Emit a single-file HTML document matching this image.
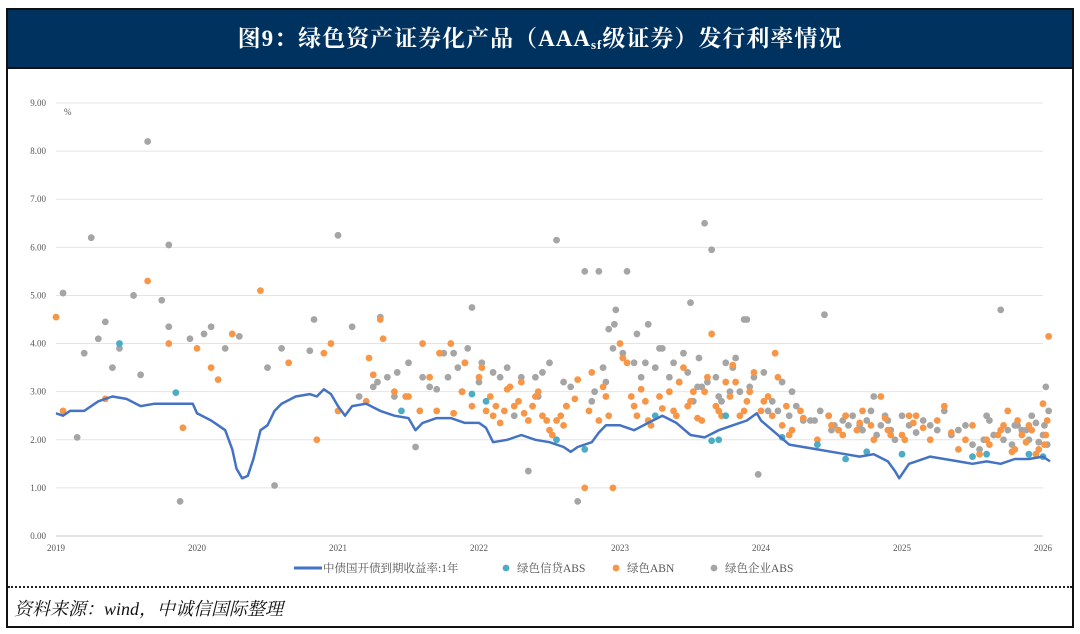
<!DOCTYPE html>
<html><head><meta charset="utf-8"><style>
body{margin:0;width:1080px;height:634px;background:#fff;overflow:hidden;font-family:"Liberation Serif","Noto Serif CJK SC",serif}
#frame{position:absolute;left:6px;top:8px;width:1064px;height:616px;border:2px solid #111;}
#hdr{position:absolute;left:0;top:0;width:1064px;height:57px;background:#00325f;border-bottom:2px solid #111;color:#fff;text-align:center;line-height:57px;font-size:23px;font-weight:bold;letter-spacing:1px}
#hdr sub{font-size:13px;vertical-align:-3px}
#dots{position:absolute;left:0;top:576px;width:1064px;border-top:2px dotted #222}
#src{position:absolute;left:6px;top:585px;font-style:italic;font-size:18px;color:#111}
svg{position:absolute;left:0;top:0}
</style></head><body>
<div id="frame">
<div id="hdr">图9：绿色资产证券化产品（AAA<sub>sf</sub>级证券）发行利率情况</div>
<div id="dots"></div>
<div id="src">资料来源：wind，中诚信国际整理</div>
</div>
<svg id="chart" width="1080" height="634"></svg>
<script>
const yTicks=[0,1,2,3,4,5,6,7,8,9];
const xTicks=[2019,2020,2021,2022,2023,2024,2025,2026];
const lineT=[2019.0,2019.05,2019.1,2019.2,2019.3,2019.4,2019.5,2019.6,2019.7,2019.8,2019.9,2019.97,2020.0,2020.1,2020.15,2020.2,2020.25,2020.28,2020.32,2020.36,2020.4,2020.45,2020.5,2020.55,2020.6,2020.7,2020.8,2020.85,2020.9,2020.95,2021.0,2021.05,2021.1,2021.2,2021.3,2021.4,2021.5,2021.55,2021.6,2021.7,2021.8,2021.9,2022.0,2022.05,2022.1,2022.2,2022.3,2022.4,2022.5,2022.6,2022.65,2022.7,2022.8,2022.85,2022.9,2023.0,2023.1,2023.2,2023.3,2023.4,2023.5,2023.6,2023.7,2023.8,2023.9,2023.97,2024.0,2024.1,2024.2,2024.3,2024.4,2024.5,2024.6,2024.7,2024.8,2024.9,2024.95,2024.98,2025.05,2025.1,2025.2,2025.3,2025.4,2025.5,2025.6,2025.7,2025.8,2025.9,2026.0,2026.05];
const lineV=[2.55,2.5,2.6,2.6,2.8,2.9,2.85,2.7,2.75,2.75,2.75,2.75,2.55,2.4,2.3,2.2,1.8,1.4,1.2,1.25,1.6,2.2,2.3,2.6,2.75,2.9,2.95,2.9,3.05,2.95,2.7,2.5,2.7,2.75,2.6,2.5,2.45,2.2,2.35,2.45,2.45,2.35,2.35,2.25,1.95,2.0,2.1,2.0,1.95,1.85,1.75,1.85,1.95,2.15,2.3,2.3,2.2,2.35,2.5,2.35,2.1,2.05,2.2,2.3,2.4,2.55,2.4,2.15,1.9,1.85,1.8,1.75,1.7,1.65,1.7,1.55,1.35,1.2,1.5,1.55,1.65,1.6,1.55,1.5,1.55,1.5,1.6,1.6,1.65,1.55];
const tealT=[2019.45,2019.85,2021.45,2021.95,2022.05,2022.55,2022.75,2023.25,2023.65,2023.7,2023.75,2024.15,2024.4,2024.6,2024.75,2025.0,2025.5,2025.6,2025.9,2026.0];
const tealV=[4.0,2.98,2.6,2.95,2.8,2.0,1.8,2.5,1.98,2.0,2.5,2.05,1.9,1.6,1.75,1.7,1.65,1.7,1.7,1.65];
const orangeT=[2019.0,2019.05,2019.35,2019.65,2019.8,2019.9,2020.0,2020.1,2020.15,2020.25,2020.45,2020.65,2020.85,2020.9,2020.95,2021.0,2021.2,2021.25,2021.3,2021.4,2021.5,2021.6,2021.65,2021.7,2021.8,2021.9,2021.95,2022.0,2022.05,2022.1,2022.2,2022.25,2022.3,2022.35,2022.4,2022.45,2022.5,2022.55,2022.6,2022.7,2022.75,2022.8,2022.85,2022.9,2022.95,2023.0,2023.05,2023.1,2023.15,2023.2,2023.3,2023.35,2023.4,2023.45,2023.5,2023.55,2023.6,2023.65,2023.7,2023.75,2023.8,2023.85,2023.9,2023.95,2024.0,2024.05,2024.1,2024.15,2024.2,2024.3,2024.4,2024.5,2024.55,2024.6,2024.7,2024.8,2024.85,2024.9,2025.0,2025.05,2025.1,2025.2,2025.25,2025.3,2025.4,2025.5,2025.55,2025.6,2025.7,2025.75,2025.8,2025.85,2025.9,2025.95,2026.0,2026.02,2026.04,
2021.22,2021.32,2021.48,2021.58,2021.72,2021.82,2021.88,2022.02,2022.08,2022.12,2022.15,2022.18,2022.22,2022.28,2022.32,2022.38,2022.42,2022.48,2022.52,2022.58,2022.62,2022.68,2022.78,2022.88,2022.92,2023.02,2023.08,2023.12,2023.18,2023.22,2023.28,2023.38,2023.42,2023.48,2023.52,2023.58,2023.62,2023.68,2023.72,2023.78,2023.82,2023.88,2023.92,2024.02,2024.08,2024.12,2024.18,2024.22,2024.28,2024.48,2024.58,2024.68,2024.72,2024.78,2024.88,2024.92,2025.02,2025.08,2025.15,2025.35,2025.45,2025.62,2025.68,2025.72,2025.78,2025.82,2025.88,2025.92,2025.97,2026.01,2026.03];
const orangeV=[4.55,2.6,2.85,5.3,4.0,2.25,3.9,3.5,3.25,4.2,5.1,3.6,2.0,3.8,4.0,2.6,2.8,3.35,4.5,3.0,2.9,4.0,3.3,2.6,4.0,3.6,2.7,3.3,2.6,2.5,3.05,2.7,3.2,2.4,2.9,2.5,2.2,2.4,2.3,3.25,1.0,3.4,2.4,2.9,1.0,4.0,3.6,2.7,3.05,2.4,2.65,3.0,2.5,3.5,2.8,2.45,3.0,4.2,2.6,3.2,3.55,2.5,2.8,3.4,2.6,2.9,3.8,2.3,2.1,2.45,2.0,2.3,2.2,2.5,2.35,2.0,2.9,2.2,2.1,2.5,2.5,2.0,2.4,2.7,1.8,2.3,1.7,2.0,2.2,2.6,1.8,2.1,2.3,1.7,2.75,2.1,4.15,
3.7,4.1,2.9,2.6,3.8,2.55,3.0,3.5,2.9,2.7,2.35,2.6,3.1,2.8,2.55,2.7,3.0,2.4,2.1,2.5,2.7,2.85,2.6,3.1,2.5,3.7,2.9,2.5,2.8,2.3,2.9,2.6,3.2,2.7,3.0,2.4,3.3,2.7,2.5,2.9,3.2,2.6,3.0,2.8,2.5,3.3,2.7,2.2,2.6,2.5,2.1,2.2,2.6,2.3,2.45,2.1,2.0,2.35,2.25,2.15,2.0,1.9,2.1,2.3,1.75,2.4,1.95,2.2,1.8,1.9,2.4];
const grayT=[2019.05,2019.15,2019.2,2019.25,2019.3,2019.35,2019.4,2019.45,2019.55,2019.6,2019.65,2019.75,2019.8,2019.8,2019.88,2019.95,2020.05,2020.1,2020.2,2020.3,2020.5,2020.55,2020.6,2020.8,2020.83,2021.0,2021.1,2021.15,2021.25,2021.3,2021.35,2021.4,2021.5,2021.55,2021.6,2021.7,2021.75,2021.85,2021.9,2021.95,2022.0,2022.1,2022.2,2022.25,2022.3,2022.35,2022.45,2022.5,2022.55,2022.65,2022.7,2022.75,2022.8,2022.85,2022.9,2022.95,2022.97,2023.05,2023.1,2023.15,2023.2,2023.3,2023.35,2023.45,2023.5,2023.55,2023.6,2023.62,2023.65,2023.7,2023.8,2023.85,2023.9,2023.95,2023.98,2024.05,2024.15,2024.2,2024.3,2024.35,2024.45,2024.5,2024.6,2024.7,2024.8,2024.9,2025.0,2025.1,2025.2,2025.3,2025.4,2025.5,2025.6,2025.65,2025.7,2025.8,2025.85,2025.9,2025.95,2026.0,2026.02,2026.04,
2021.28,2021.42,2021.65,2021.78,2021.82,2021.88,2021.92,2022.02,2022.15,2022.4,2022.42,2022.6,2022.62,2022.82,2022.88,2022.92,2022.96,2023.02,2023.12,2023.18,2023.25,2023.28,2023.38,2023.42,2023.48,2023.52,2023.56,2023.58,2023.68,2023.72,2023.75,2023.78,2023.82,2023.88,2023.92,2024.02,2024.08,2024.12,2024.22,2024.25,2024.38,2024.42,2024.48,2024.52,2024.55,2024.58,2024.62,2024.65,2024.72,2024.75,2024.78,2024.82,2024.85,2024.88,2024.92,2024.95,2025.05,2025.15,2025.25,2025.35,2025.45,2025.55,2025.58,2025.62,2025.72,2025.75,2025.78,2025.82,2025.88,2025.92,2025.97,2026.01,2026.03];
const grayV=[5.05,2.05,3.8,6.2,4.1,4.45,3.5,3.9,5.0,3.35,8.2,4.9,6.05,4.35,0.72,4.1,4.2,4.35,3.9,4.15,3.5,1.05,3.9,3.85,4.5,6.25,4.35,2.9,3.1,4.55,3.3,2.9,3.6,1.85,3.3,3.05,3.8,3.5,3.6,4.75,3.2,3.4,3.5,2.5,3.3,1.35,3.4,3.6,6.15,3.1,0.72,5.5,2.8,5.5,3.2,3.9,4.7,5.5,3.6,3.3,4.4,3.9,3.3,3.8,4.85,3.1,6.5,3.2,5.95,2.9,3.5,3.0,4.5,3.3,1.28,2.6,3.2,2.5,2.4,2.4,4.6,2.2,2.5,2.3,2.9,2.4,2.5,2.15,2.3,2.6,2.2,1.9,2.5,2.1,4.7,2.3,2.2,2.0,2.35,2.1,3.1,2.6,
3.2,3.4,3.1,3.3,3.8,3.0,3.9,3.6,3.3,3.3,2.9,3.2,2.7,3.0,3.5,4.3,4.4,3.8,4.2,3.6,3.5,3.9,3.6,3.2,3.4,2.8,3.7,3.1,3.3,2.8,3.6,3.0,3.7,4.5,3.1,3.4,2.8,2.6,3.0,2.7,2.4,2.6,2.5,2.3,2.2,2.4,2.3,2.5,2.2,2.4,2.6,2.1,2.3,2.5,2.2,2.0,2.3,2.4,2.2,2.1,2.3,1.8,2.0,2.4,2.0,2.2,1.9,2.3,2.2,2.5,1.95,2.3,1.9];
const NS='http://www.w3.org/2000/svg';
const svg=document.getElementById('chart');
const X0=56,X1=1043,Y0=536,Y9=103;
function sx(t){return X0+(t-2019)*(X1-X0)/7;}
function sy(v){return Y0-v*(Y0-Y9)/9;}
function mk(tag,attrs){const e=document.createElementNS(NS,tag);for(const k in attrs)e.setAttribute(k,attrs[k]);svg.appendChild(e);return e;}
yTicks.forEach(v=>{
  const g=mk('line',{x1:X0,x2:X1,y1:sy(v),y2:sy(v),stroke:v===0?'#c8c8c8':'#e4e4e4','stroke-width':1});
  
  
  const t=mk('text',{x:46,y:sy(v)+3,'text-anchor':'end','font-size':9,fill:'#555','font-family':'Liberation Serif, serif'});
  t.textContent=v.toFixed(2);
  
  
});
xTicks.forEach(y=>{
  const t=mk('text',{x:sx(y),y:551,'text-anchor':'middle','font-size':9,fill:'#555','font-family':'Liberation Serif, serif'});
  t.textContent=y;
  
  
});
const pc=mk('text',{x:64,y:115,'font-size':9,fill:'#555'});pc.textContent='%';


function dots(T,V,col,name){T.forEach((t,i)=>{const c=mk('circle',{cx:sx(t),cy:sy(V[i]),r:3.4,fill:col});
  
  });}
dots(grayT,grayV,'#a5a5a5','enterprise-abs-point');
dots(orangeT,orangeV,'#f79646','abn-point');
dots(tealT,tealV,'#4bacc6','credit-abs-point');
const p=mk('path',{d:lineT.map((t,i)=>(i?'L':'M')+sx(t).toFixed(1)+','+sy(lineV[i]).toFixed(1)).join(''),fill:'none',stroke:'#4472c4','stroke-width':2.5,'stroke-linejoin':'round'});


function leg(x,label,kind,col){
  const g=document.createElementNS(NS,'g');svg.appendChild(g);
  
  
  if(kind==='line'){const l=document.createElementNS(NS,'line');l.setAttribute('x1',x);l.setAttribute('x2',x+28);l.setAttribute('y1',568);l.setAttribute('y2',568);l.setAttribute('stroke',col);l.setAttribute('stroke-width',3);g.appendChild(l);x+=28;}
  else{const c=document.createElementNS(NS,'circle');c.setAttribute('cx',x+4);c.setAttribute('cy',568);c.setAttribute('r',3.4);c.setAttribute('fill',col);g.appendChild(c);x+=14;}
  const t=document.createElementNS(NS,'text');t.setAttribute('x',x+1);t.setAttribute('y',572);t.setAttribute('font-size',11.5);t.setAttribute('fill','#555');t.setAttribute('font-family','Liberation Serif, Noto Serif CJK SC, serif');t.textContent=label;g.appendChild(t);
}
leg(294,'中债国开债到期收益率:1年','line','#4472c4');
leg(502,'绿色信贷ABS','dot','#4bacc6');
leg(612,'绿色ABN','dot','#f79646');
leg(710,'绿色企业ABS','dot','#a5a5a5');
</script>
</body></html>
